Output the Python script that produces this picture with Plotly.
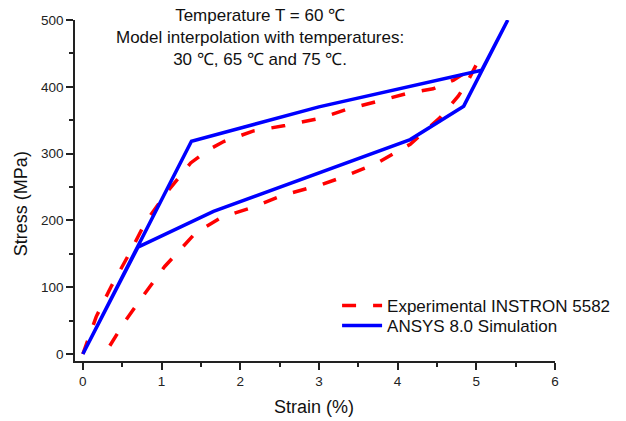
import plotly.graph_objects as go

# Experimental hysteresis loop (INSTRON 5582): loading then unloading branch
exp_strain = [0.0, 0.17, 0.36, 0.58, 0.79, 1.06, 1.37, 1.60, 1.79, 2.17, 2.57, 3.02,
              3.35, 3.74, 4.12, 4.45, 4.71, 4.90, 5.00,
              4.88, 4.77, 4.54, 4.16, 3.74, 3.33, 3.02, 2.55, 2.17, 1.77, 1.43,
              1.04, 0.79, 0.53, 0.32, 0.28]
exp_stress = [0, 56, 101, 148, 196, 241, 286, 306, 318, 334, 342, 353,
              366, 378, 390, 397, 410, 424, 433,
              406, 386, 354, 314, 286, 266, 253, 238, 220, 205, 181,
              131, 91, 48, 8, 0]

# ANSYS 8.0 simulated loop
sim_strain = [0.0, 1.38, 3.0, 5.07, 5.40, 4.84, 4.16, 1.66, 0.70, 0.0]
sim_stress = [0, 318.5, 370, 425, 500, 371, 321, 213.5, 160, 0]

x_ticks = [0, 1, 2, 3, 4, 5, 6]
y_ticks = [0, 100, 200, 300, 400, 500]

FONT = "Liberation Sans, Arial, sans-serif"

fig = go.Figure()
fig.add_trace(go.Scatter(
    x=exp_strain, y=exp_stress, mode="lines",
    name="Experimental INSTRON 5582", legend="legend",
    line=dict(color="#FF0000", width=3.5, dash="14px,17px"),
))
fig.add_trace(go.Scatter(
    x=sim_strain, y=sim_stress, mode="lines",
    name="ANSYS 8.0 Simulation", legend="legend2",
    line=dict(color="#0000FF", width=3.5),
))

axis_common = dict(
    showline=True, linecolor="#222", linewidth=1.5, mirror=False,
    showgrid=False, zeroline=False,
    ticks="outside", ticklen=7, tickwidth=1.5, tickcolor="#222",
    tickfont=dict(family=FONT, size=13.5, color="#222"),
)

fig.update_xaxes(
    range=[-0.1, 6], tickvals=x_ticks, ticktext=[str(v) for v in x_ticks],
    minor=dict(dtick=0.5, ticks="outside", ticklen=4, tickwidth=1.5, tickcolor="#222"),
    **axis_common,
)
fig.update_yaxes(
    range=[-10.5, 500], tickvals=y_ticks, ticktext=[str(v) for v in y_ticks],
    minor=dict(dtick=50, ticks="outside", ticklen=4, tickwidth=1.5, tickcolor="#222"),
    **axis_common,
)

fig.add_annotation(
    text="Temperature T = 60 ℃<br>Model interpolation with temperatures:<br>30 ℃, 65 ℃ and 75 ℃.",
    xref="paper", yref="paper", x=0.385, y=0.949,
    xanchor="center", yanchor="middle", showarrow=False, align="center",
    font=dict(family=FONT, size=17, color="#111"),
)
fig.add_annotation(
    text="Strain (%)", xref="paper", yref="paper", x=0.497, y=-0.134,
    xanchor="center", yanchor="middle", showarrow=False,
    font=dict(family=FONT, size=18, color="#111"),
)
fig.add_annotation(
    text="Stress (MPa)", xref="paper", yref="paper", x=-0.1125, y=0.46,
    xanchor="center", yanchor="middle", showarrow=False, textangle=-90,
    font=dict(family=FONT, size=18, color="#111"),
)

legend_common = dict(
    xanchor="left", yanchor="middle",
    bgcolor="rgba(0,0,0,0)", borderwidth=0,
    font=dict(family=FONT, size=17, color="#111"),
    itemwidth=40,
)

fig.update_layout(
    width=626, height=421,
    margin=dict(l=75, r=71, t=20, b=60, autoexpand=False),
    paper_bgcolor="white", plot_bgcolor="white",
    showlegend=True,
    legend=dict(x=0.546, y=(361 - 306) / 341, **legend_common),
    legend2=dict(x=0.546, y=(361 - 326) / 341, **legend_common),
)

fig.write_html("out.html")
